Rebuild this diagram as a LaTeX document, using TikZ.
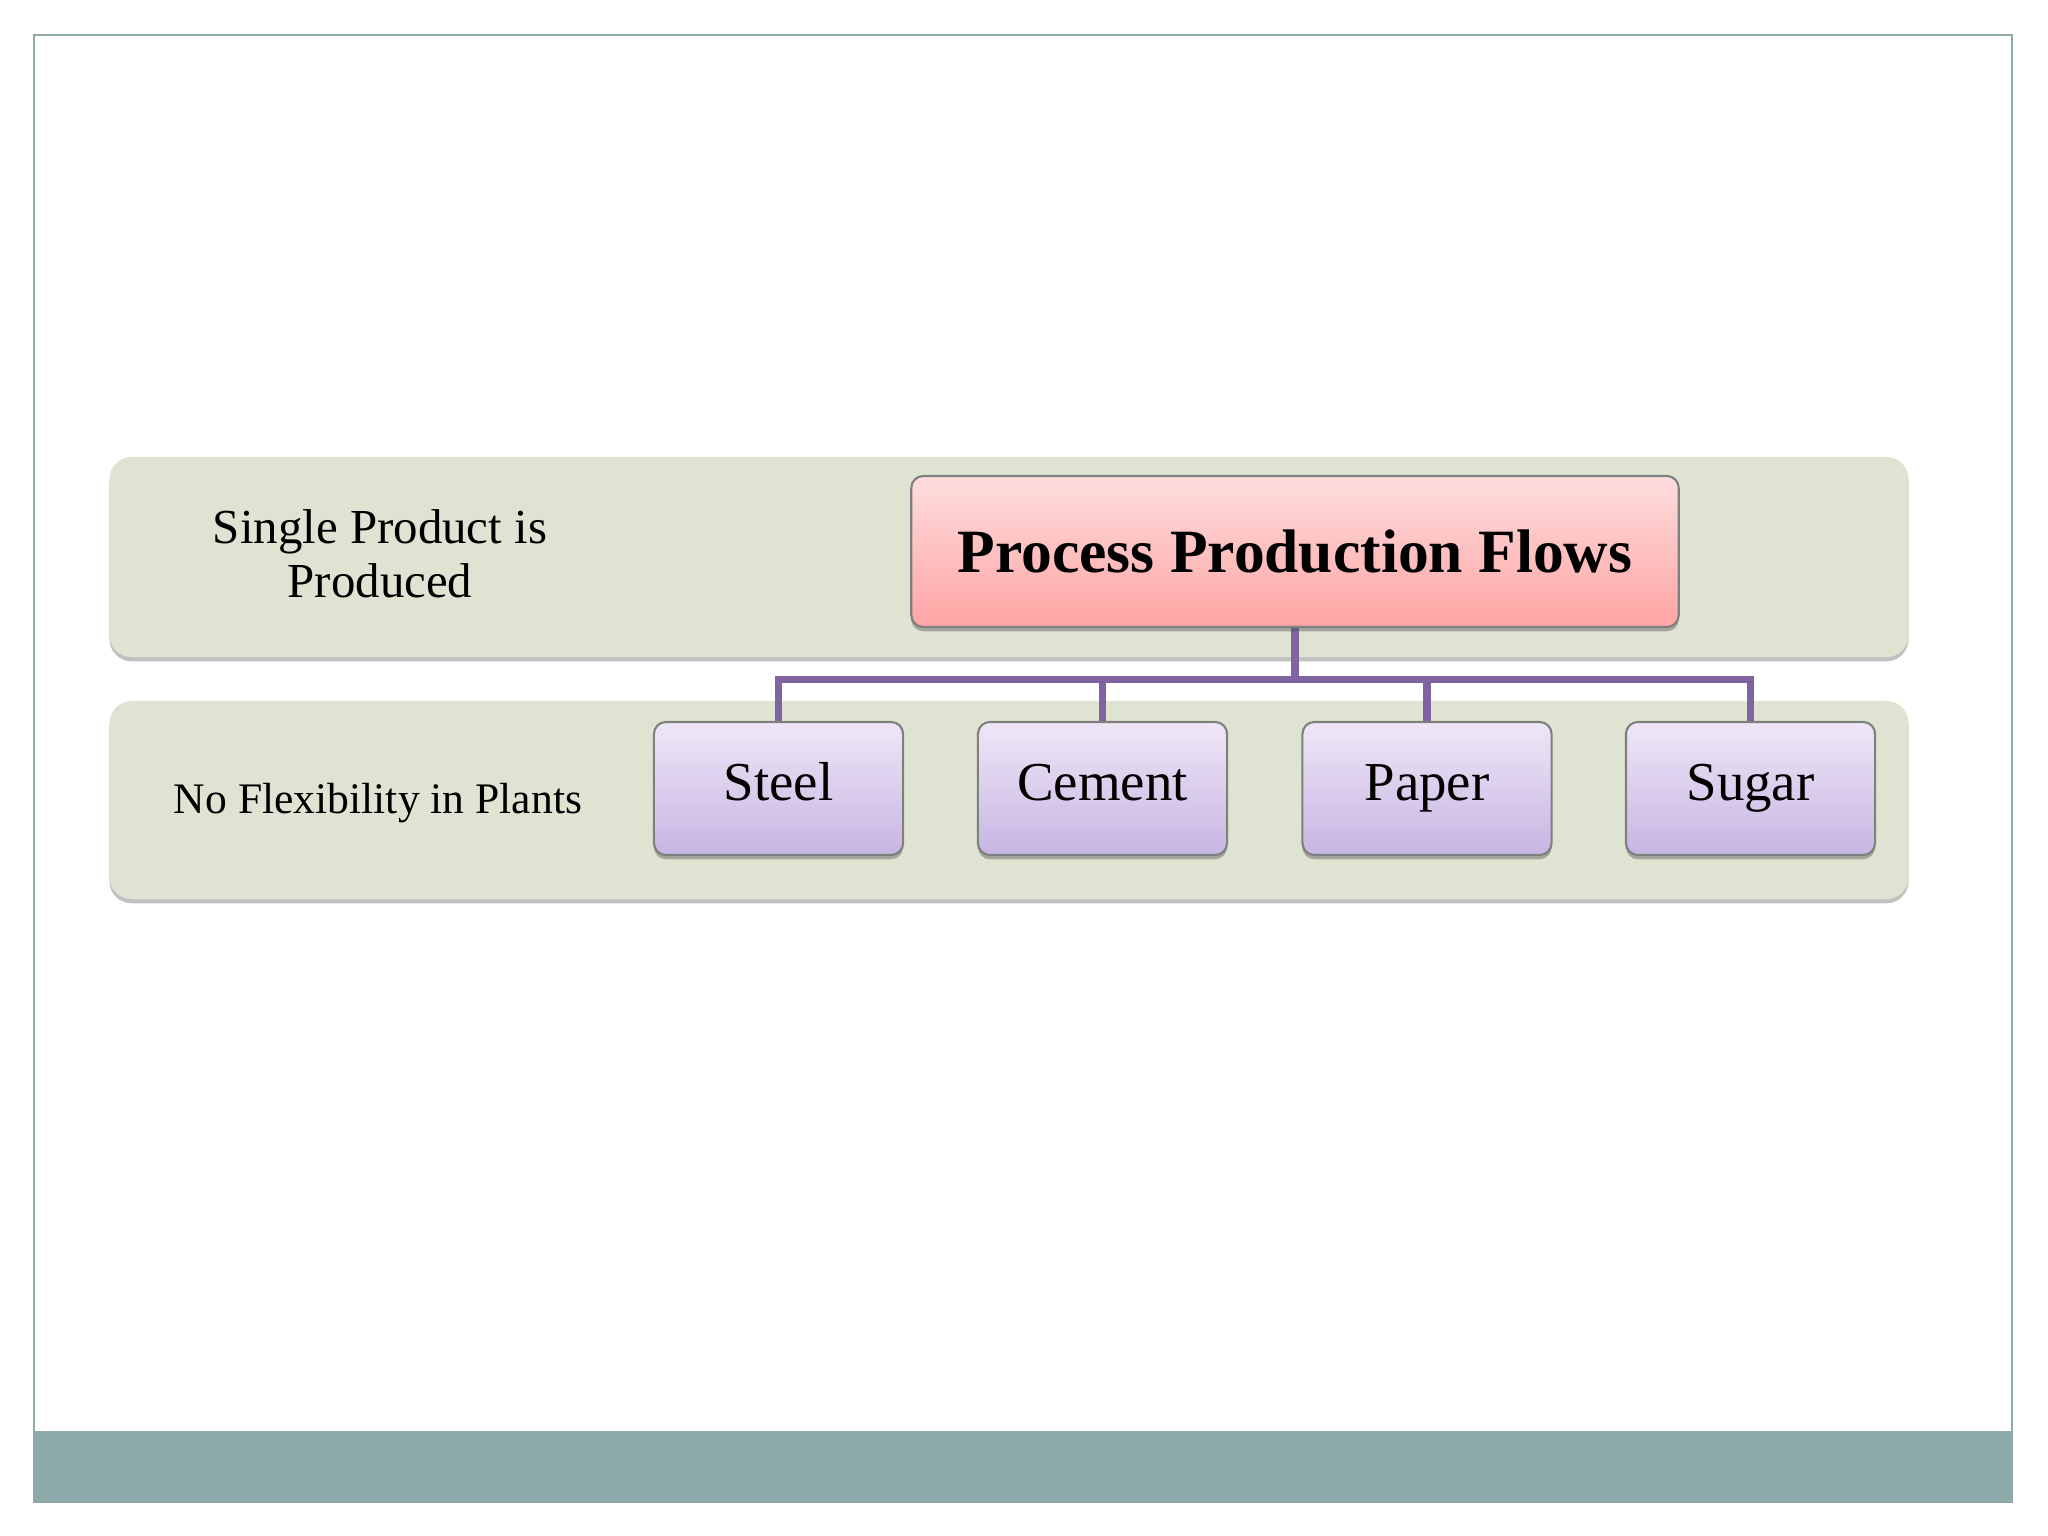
\documentclass[tikz,border=0pt]{standalone}
\usepackage{fontspec}
\setmainfont{Liberation Serif}
\usetikzlibrary{shadows,backgrounds}
\definecolor{framec}{HTML}{8FA9A6}
\definecolor{barc}{HTML}{8EAAAA}
\definecolor{bandc}{HTML}{DEE4D1}
\definecolor{pinktop}{HTML}{FDDDDD}
\definecolor{pinkbot}{HTML}{FFA4A4}
\definecolor{lavtop}{HTML}{EEE7F7}
\definecolor{lavbot}{HTML}{C7B5E2}
\definecolor{linkc}{HTML}{8064A2}
\definecolor{edgec}{HTML}{7F7F7F}
\tikzset{
  bandbox/.style={rectangle, rounded corners=0.22cm, fill=bandc, draw=none,
    inner sep=0pt, drop shadow={shadow xshift=0pt, shadow yshift=-1.2pt, opacity=0.35, fill=black!70}},
  procbox/.style={rectangle, rounded corners=0.12cm, draw=edgec, line width=0.6pt,
    top color=pinktop, bottom color=pinkbot, inner sep=0pt,
    minimum width=7.67cm, minimum height=1.51cm,
    font=\fontsize{17.5}{20}\selectfont\bfseries,
    drop shadow={shadow xshift=0pt, shadow yshift=-1.2pt, opacity=0.4, fill=black!70}},
  itembox/.style={rectangle, rounded corners=0.12cm, draw=edgec, line width=0.6pt,
    top color=lavtop, bottom color=lavbot, inner sep=0pt,
    minimum width=2.49cm, minimum height=1.33cm,
    text height=0.74em, text depth=0.06em,
    font=\fontsize{15.6}{18}\selectfont,
    drop shadow={shadow xshift=0pt, shadow yshift=-1.2pt, opacity=0.4, fill=black!70}},
  sidelabel/.style={inner sep=0pt, align=center},
  conn/.style={draw=linkc, line width=2pt}
}
\begin{document}
\begin{tikzpicture}[x=0.01cm,y=-0.01cm]
\useasboundingbox (0,0) rectangle (2048,1536);
% boxes
\node[procbox] (proc) at (1295,551.5) {Process Production Flows};
\node[itembox] (steel) at (778.5,788.5) {Steel};
\node[itembox] (cement) at (1102.5,788.5) {Cement};
\node[itembox] (paper) at (1427,788.5) {Paper};
\node[itembox] (sugar) at (1750.5,788.5) {Sugar};
% left labels
\node[sidelabel, font=\fontsize{13.9}{15.4}\selectfont] (lab1) at (380,554) {Single Product is\\Produced};
\node[sidelabel, anchor=base, font=\fontsize{12.4}{14}\selectfont] (lab2) at (378,813) {No Flexibility in Plants};
\begin{scope}[on background layer]
% slide frame and bottom bar
\fill[barc] (34,1431) rectangle (2012,1502);
\draw[framec, line width=0.7pt] (34,35) rectangle (2012,1502);
% bands
\node[bandbox, minimum width=17.98cm, minimum height=2.0cm] (band1) at (1009,557) {};
\node[bandbox, minimum width=17.98cm, minimum height=1.98cm] (band2) at (1009,800) {};
% connectors (under the boxes)
\path (proc.south) ++(0,51) coordinate (hub);
\draw[conn] (proc.south) -- (hub);
\draw[conn] (hub) -| (steel.north);
\draw[conn] (hub) -| (cement.north);
\draw[conn] (hub) -| (paper.north);
\draw[conn] (hub) -| (sugar.north);
\end{scope}
\end{tikzpicture}
\end{document}
